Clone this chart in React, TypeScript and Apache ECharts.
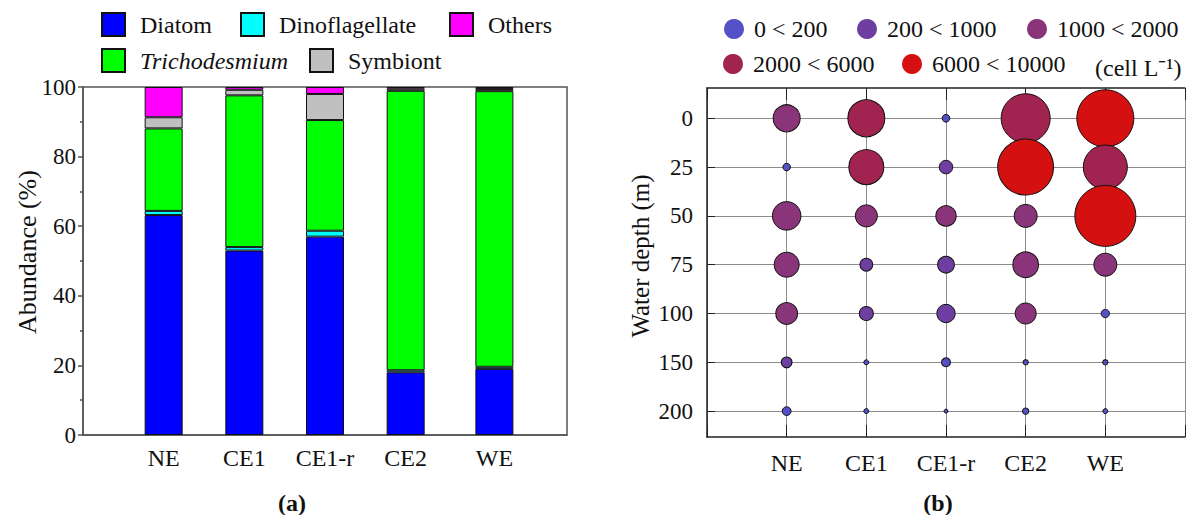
import { useEffect, useRef } from 'react';
import * as echarts from 'echarts';

// ---- Panel (a): relative abundance of phytoplankton groups (%) ----
const stations = ['NE', 'CE1', 'CE1-r', 'CE2', 'WE'];
const barPositions = [1, 2, 3, 4, 5.1];

const diatom = [63.2, 53.0, 57.0, 18.0, 19.0];
const dinoflagellate = [1.2, 1.0, 1.7, 0.6, 0.6];
const trichodesmium = [23.7, 43.6, 31.8, 80.3, 79.2];
const symbiont = [3.2, 1.6, 7.5, 0.6, 0.6];
const others = [8.7, 0.8, 2.0, 0.5, 0.6];

const abundanceTicks = [0, 20, 40, 60, 80, 100];

// ---- Panel (b): cell abundance by depth (cell L-1) ----
const depthLabels = ['0', '25', '50', '75', '100', '150', '200'];
const cellsNE = [1780, 140, 1990, 1525, 1150, 280, 185];
const cellsCE1 = [3340, 2990, 1180, 395, 480, 61, 61];
const cellsCE1r = [145, 445, 1010, 680, 820, 195, 39];
const cellsCE2 = [5860, 7650, 1290, 1610, 1080, 68, 97];
const cellsWE = [7930, 4730, 9080, 1290, 170, 68, 61];

const classNames = ['0 < 200', '200 < 1000', '1000 < 2000', '2000 < 6000', '6000 < 10000'];
const classUpper = [200, 1000, 2000, 6000, 10000];
const classColors = ['#5450c6', '#6e3fa0', '#8a357a', '#a1234f', '#d51010'];

const FONT = 'Liberation Serif';

function classOf(v: number): number {
  for (let i = 0; i < classUpper.length; i++) if (v < classUpper[i]) return i;
  return classUpper.length - 1;
}

function buildOption() {
  const groups = [
    { name: 'Diatom', values: diatom, color: '#0000ff' },
    { name: 'Dinoflagellate', values: dinoflagellate, color: '#00ffff' },
    { name: 'Trichodesmium', values: trichodesmium, color: '#00ff00' },
    { name: 'Symbiont', values: symbiont, color: '#c0c0c0' },
    { name: 'Others', values: others, color: '#ff00ff' },
  ];

  // value first so that stacking applies to the percentage dimension
  const barSeries = groups.map((g) => ({
    name: g.name,
    type: 'bar',
    xAxisIndex: 0,
    yAxisIndex: 0,
    stack: 'abundance',
    barWidth: 38,
    encode: { x: 1, y: 0 },
    itemStyle: { color: g.color, borderColor: '#111', borderWidth: 1 },
    data: g.values.map((v, i) => [v, barPositions[i]]),
  }));

  const stationCells = [cellsNE, cellsCE1, cellsCE1r, cellsCE2, cellsWE];
  const bubbles: number[][] = [];
  depthLabels.forEach((_, r) => {
    stationCells.forEach((col, s) => {
      bubbles.push([s + 1, r, col[r]]);
    });
  });

  const bubbleSeries = {
    name: 'cells',
    type: 'scatter',
    xAxisIndex: 1,
    yAxisIndex: 1,
    z: 5,
    symbolSize: (d: number[]) => 0.64 * Math.sqrt(d[2]),
    itemStyle: {
      color: (p: any) => classColors[classOf(p.data[2])],
      borderColor: '#111',
      borderWidth: 1,
      opacity: 1,
    },
    data: bubbles,
  };

  const classSeries = classNames.map((n, i) => ({
    name: n,
    type: 'scatter',
    xAxisIndex: 1,
    yAxisIndex: 1,
    itemStyle: { color: classColors[i], borderWidth: 0, opacity: 1 },
    data: [],
  }));

  // legend layout: one component per entry
  const barLegendPos = [
    { name: 'Diatom', left: 96, top: 7 },
    { name: 'Dinoflagellate', left: 235, top: 7 },
    { name: 'Others', left: 444, top: 7 },
    { name: 'Trichodesmium', left: 96, top: 43 },
    { name: 'Symbiont', left: 304, top: 43 },
  ];
  const classLegendPos = [
    { left: 719, top: 12 },
    { left: 852, top: 12 },
    { left: 1022, top: 12 },
    { left: 718, top: 47 },
    { left: 897, top: 47 },
  ];

  const legends = [
    ...barLegendPos.map((p) => ({
      data: [p.name],
      left: p.left,
      top: p.top,
      icon: 'rect',
      itemWidth: 23,
      itemHeight: 23,
      itemGap: 0,
      selectedMode: false,
      textStyle: {
        fontFamily: FONT,
        fontSize: 24,
        color: '#111',
        fontStyle: p.name === 'Trichodesmium' ? 'italic' : 'normal',
        padding: [0, 0, 0, 10],
      },
    })),
    ...classLegendPos.map((p, i) => ({
      data: [classNames[i]],
      left: p.left,
      top: p.top,
      icon: 'circle',
      itemWidth: 20,
      itemHeight: 20,
      itemGap: 0,
      selectedMode: false,
      itemStyle: { borderWidth: 0, opacity: 1 },
      textStyle: { fontFamily: FONT, fontSize: 24, color: '#111', padding: [0, 0, 0, 5] },
    })),
  ];

  const axisText = { fontFamily: FONT, fontSize: 23, color: '#111' };
  const rowIdx = depthLabels.map((_, i) => i);

  return {
    animation: false,
    backgroundColor: '#ffffff',
    textStyle: { fontFamily: FONT },
    legend: legends,
    grid: [
      {
        left: 83,
        top: 87,
        width: 484,
        height: 348,
        show: true,
        borderColor: '#555',
        borderWidth: 1.5,
        backgroundColor: 'transparent',
      },
      { left: 707, top: 88, width: 483, height: 349 },
    ],
    xAxis: [
      {
        gridIndex: 0,
        type: 'value',
        min: 0,
        max: 6,
        axisLine: { show: true, lineStyle: { color: '#555', width: 1.5 } },
        axisTick: { show: false },
        splitLine: { show: false },
        axisLabel: {
          ...axisText,
          fontSize: 24,
          margin: 11,
          customValues: barPositions,
          formatter: (v: number) => {
            const i = barPositions.findIndex((p) => Math.abs(p - v) < 1e-6);
            return i >= 0 ? stations[i] : '';
          },
        },
      },
      {
        gridIndex: 1,
        type: 'value',
        min: 0,
        max: 6,
        interval: 1,
        axisLine: { show: true, onZero: false, lineStyle: { color: '#222', width: 1.5 } },
        axisTick: { show: true, inside: true, length: 12, lineStyle: { color: '#222', width: 1 } },
        splitLine: { show: true, lineStyle: { color: '#8c8c8c', width: 1 } },
        axisLabel: {
          ...axisText,
          fontSize: 24,
          margin: 14,
          formatter: (v: number) => stations[v - 1] ?? '',
        },
      },
      {
        gridIndex: 1,
        type: 'value',
        position: 'top',
        min: 0,
        max: 6,
        interval: 1,
        axisLine: { show: true, onZero: false, lineStyle: { color: '#222', width: 1.5 } },
        axisTick: { show: true, inside: true, length: 12, lineStyle: { color: '#222', width: 1 } },
        splitLine: { show: false },
        axisLabel: { show: false },
      },
    ],
    yAxis: [
      {
        gridIndex: 0,
        type: 'value',
        min: 0,
        max: 100,
        interval: 20,
        axisLine: { show: true, lineStyle: { color: '#555', width: 1.5 } },
        axisTick: { show: true, inside: false, length: 5, lineStyle: { color: '#555', width: 1.5 } },
        minorTick: { show: true, splitNumber: 2, length: 3, lineStyle: { color: '#555', width: 1.5 } },
        splitLine: { show: false },
        axisLabel: {
          ...axisText,
          margin: 7,
          customValues: abundanceTicks,
        },
      },
      {
        gridIndex: 1,
        type: 'value',
        inverse: true,
        min: -0.62,
        max: 6.53,
        axisLine: { show: true, onZero: false, lineStyle: { color: '#222', width: 1.5 } },
        axisTick: {
          show: true,
          inside: true,
          length: 8,
          customValues: rowIdx,
          lineStyle: { color: '#222', width: 1 },
        },
        splitLine: { show: true, lineStyle: { color: '#8c8c8c', width: 1 } },
        axisLabel: {
          ...axisText,
          margin: 14,
          customValues: rowIdx,
          formatter: (v: number) => depthLabels[Math.round(v)] ?? '',
        },
      },
    ],
    graphic: [
      {
        type: 'text',
        x: 27,
        y: 252,
        rotation: Math.PI / 2,
        style: {
          text: 'Abundance (%)',
          fontFamily: FONT,
          fontSize: 26,
          fill: '#111',
          textAlign: 'center',
          textVerticalAlign: 'middle',
        },
      },
      {
        type: 'text',
        x: 640,
        y: 256,
        rotation: Math.PI / 2,
        style: {
          text: 'Water depth (m)',
          fontFamily: FONT,
          fontSize: 25,
          fill: '#111',
          textAlign: 'center',
          textVerticalAlign: 'middle',
        },
      },
      {
        type: 'text',
        x: 1095,
        y: 68,
        style: {
          text: '(cell L\u207B\u00B9)',
          fontFamily: FONT,
          fontSize: 24,
          fill: '#111',
          textAlign: 'left',
          textVerticalAlign: 'middle',
        },
      },
      {
        type: 'text',
        x: 292,
        y: 503,
        style: {
          text: '(a)',
          fontFamily: FONT,
          fontSize: 24,
          fontWeight: 'bold',
          fill: '#111',
          textAlign: 'center',
          textVerticalAlign: 'middle',
        },
      },
      {
        type: 'text',
        x: 938,
        y: 503,
        style: {
          text: '(b)',
          fontFamily: FONT,
          fontSize: 24,
          fontWeight: 'bold',
          fill: '#111',
          textAlign: 'center',
          textVerticalAlign: 'middle',
        },
      },
    ],
    series: [...barSeries, ...classSeries, bubbleSeries],
  };
}

export default function App() {
  const ref = useRef<HTMLDivElement>(null);
  useEffect(() => {
    if (!ref.current) return;
    const chart = echarts.init(ref.current, undefined, { renderer: 'svg' });
    chart.setOption(buildOption() as any);
    return () => chart.dispose();
  }, []);
  return (
    <div
      ref={ref}
      style={{ position: 'absolute', left: 0, top: 0, width: 1188, height: 515, background: '#fff' }}
    />
  );
}
